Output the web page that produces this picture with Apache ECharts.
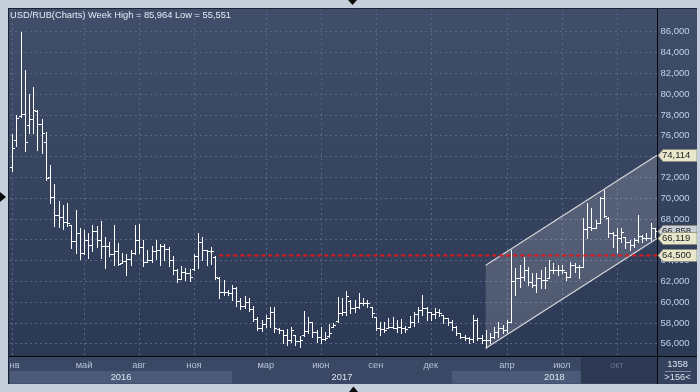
<!DOCTYPE html>
<html><head><meta charset="utf-8">
<script src="https://cdn.jsdelivr.net/npm/echarts@6/dist/echarts.min.js"></script>
<style>html,body{margin:0;padding:0;background:#c5cfdc}#c{width:700px;height:392px}</style>
</head><body><div id="c"></div>
<script>
// ---------------- data ----------------
const chartTitle = 'USD/RUB(Charts) Week High = 85,964 Low = 55,551';
const firstWeek = '2016-01-03';   // weekly bars, first week
const opens = [73.0,75.6,77.9,78.1,77.0,77.6,78.4,77.1,75.4,72.0,
70.1,68.4,68.2,67.7,67.4,65.9,66.6,64.7,66.0,65.5,
66.8,66.0,65.4,65.4,64.6,64.9,63.8,64.0,64.1,64.7,
66.0,65.3,63.9,64.05,64.95,65.0,65.4,65.1,64.05,63.1,
62.2,62.9,62.8,63.2,64.4,65.8,65.0,64.9,64.3,62.3,
61.0,61.0,60.9,61.4,60.1,59.6,60.0,59.3,58.4,57.5,
57.9,58.44,59.05,57.45,57.3,56.84,56.36,56.8,56.3,56.8,
57.2,58.1,57.16,56.61,56.42,56.7,57.6,58.2,58.98,59.08,
60.1,59.4,59.5,59.95,59.95,59.5,58.6,57.48,57.41,57.5,
57.57,57.48,57.6,57.48,57.6,58.12,58.9,59.24,59.4,59.08,
58.86,59.08,58.76,58.44,58.12,57.64,56.99,56.68,56.52,56.42,
58.28,56.52,56.36,56.36,56.68,57.16,57.48,57.32,58.12,62.0,
62.28,62.4,63.08,61.96,61.64,62.28,62.12,62.3,63.08,63.08,
63.08,62.92,62.44,63.57,63.41,63.41,67.0,67.25,67.09,67.57,
69.98,68.05,66.6,66.45,66.13,66.29,65.81,65.49,65.97,66.4,
66.13,66.13,67.09];
const highs = [76.2,78.0,85.964,82.3,80.0,80.7,78.5,77.6,76.4,73.2,
71.4,69.7,69.3,69.5,67.4,68.9,67.1,66.9,66.6,67.4,
67.3,67.8,66.3,65.8,67.4,65.7,64.7,64.6,65.0,67.4,
67.5,65.97,65.0,65.4,66.0,65.6,65.6,65.3,64.4,63.15,
63.5,63.25,63.15,64.6,66.6,66.3,65.0,65.3,64.4,62.45,
62.1,61.2,61.6,61.5,60.4,60.6,60.4,59.6,58.6,58.3,
58.76,59.56,59.56,57.48,57.32,57.41,57.57,56.84,56.74,59.14,
58.6,58.12,57.32,57.57,57.09,57.89,57.96,60.52,60.36,61.1,
60.2,60.2,60.84,60.36,60.2,59.56,58.6,58.12,58.12,58.44,
58.6,58.3,58.34,57.7,58.66,59.08,59.56,60.68,59.56,59.08,
59.4,59.3,58.76,58.44,58.28,57.7,56.99,56.84,56.68,58.76,
58.44,56.84,57.32,56.99,57.64,58.12,57.8,58.28,65.01,63.25,
63.6,64.37,63.41,62.76,62.76,63.08,63.41,64.05,63.73,63.57,
63.57,62.92,63.89,63.73,63.57,68.05,69.5,69.01,67.89,70.14,
70.78,68.21,66.77,67.09,67.09,66.29,65.97,66.13,68.37,66.45,
66.61,67.57,67.09];
const lows = [72.6,75.0,77.8,74.5,76.3,76.3,74.6,74.3,71.7,69.5,
67.3,67.2,67.0,67.3,65.2,64.7,64.1,64.6,64.2,64.9,
65.3,64.2,63.3,64.4,63.6,63.6,63.8,62.6,63.6,64.6,
64.7,63.47,63.9,63.9,64.1,63.6,64.05,63.5,62.7,61.97,
62.2,62.1,62.06,63.1,63.3,64.05,63.6,63.7,62.2,60.36,
60.7,60.7,60.2,59.6,59.3,59.4,59.1,58.2,57.3,57.2,
57.57,57.64,57.16,57.0,56.04,55.88,56.2,55.88,55.72,56.74,
57.0,56.68,56.2,56.04,56.36,56.61,57.57,58.12,58.76,58.76,
58.92,59.08,59.4,59.72,59.5,58.6,57.32,56.84,57.16,57.48,
57.48,57.16,57.06,57.16,57.57,57.7,58.12,58.76,58.28,58.28,
58.44,58.66,57.96,57.8,57.32,56.84,56.52,56.36,56.03,56.2,
56.36,56.1,55.551,56.03,56.52,56.68,57.0,57.16,58.12,60.68,
61.5,62.12,61.64,61.48,61.0,61.32,61.32,62.28,62.76,62.6,
62.76,62.12,62.44,62.92,62.28,63.41,66.13,66.93,67.09,67.57,
68.21,66.29,65.33,64.85,65.81,65.17,65.01,65.33,65.81,65.81,
65.97,65.97,66.29];
const closes = [74.8,77.7,78.1,75.4,77.6,78.5,77.1,76.3,71.9,70.1,
68.4,68.2,67.7,67.6,65.9,66.6,64.7,66.0,65.5,66.8,
66.0,65.4,65.4,64.6,64.9,63.7,64.0,64.1,64.7,66.0,
65.3,63.89,64.05,64.95,65.0,65.4,65.1,64.05,63.1,62.2,
62.9,62.8,62.4,64.4,65.8,65.0,64.9,64.9,62.45,61.0,
61.0,60.9,61.4,60.1,59.6,60.0,59.3,58.4,57.5,57.9,
58.44,59.05,57.5,57.3,56.84,56.36,57.32,56.3,56.36,57.2,
58.1,57.16,56.61,56.42,56.58,57.0,57.8,58.98,59.08,60.59,
59.4,59.5,59.95,59.95,59.88,58.92,57.48,57.41,57.32,57.57,
57.48,57.6,57.48,57.38,58.12,58.9,59.24,59.4,59.08,58.86,
59.08,58.92,58.44,58.12,57.64,56.99,56.68,56.52,56.42,58.28,
56.52,56.36,56.36,56.68,57.16,57.48,57.32,58.12,62.0,62.28,
62.4,63.08,61.96,61.64,62.28,62.12,62.12,63.08,63.08,63.08,
63.08,62.44,63.57,63.41,63.41,67.0,67.25,67.09,67.57,69.98,
68.3,66.6,66.45,66.13,66.77,65.81,65.49,65.97,66.4,66.13,
66.13,67.09,66.858];

const yMin = 56, yMax = 86, yStep = 2;
const monthNames = ['янв','фев','мар','апр','май','июн','июл','авг','сен','окт','ноя','дек'];
const labelMonths = ['2016-01','2016-05','2016-08','2016-11','2017-03','2017-06','2017-09','2017-12','2018-04','2018-07','2018-10'];
const yearLabels = ['2016','2017','2018'];
const dimFromIndex = 135;
const supportLevel = 64.5, supportFromIndex = 49;
const channelStartIndex = 112;
const channelLowStart = 55.551, channelHighStart = 63.546;
const channelLowEnd = 66.119, channelHighEnd = 74.114;
const tagValues = [74.114, 66.858, 66.119, 64.5];
const tagKinds  = ['y', 'g', 'y', 'y'];
const counterTop = '1358', counterBottom = '>156<';

// ---------------- chart ----------------
const FONT = '"Liberation Sans", Arial, sans-serif';
const N = highs.length;
const DAY = 864e5;
const d0 = new Date(firstWeek + 'T00:00:00Z');
const weekDates = [];
for (let i = 0; i < N; i++) weekDates.push(new Date(d0.getTime() + i * 7 * DAY).toISOString().slice(0, 10));
const satKey = i => new Date(d0.getTime() + (i * 7 + 6) * DAY).toISOString().slice(0, 7);
const labelIdx = new Map();
labelMonths.forEach(m => { for (let i = 0; i < N; i++) { if (satKey(i) === m) { labelIdx.set(i, monthNames[+m.slice(5, 7) - 1]); break; } } });
const yearStart = yearLabels.map(y => { for (let i = 0; i < N; i++) if (satKey(i).slice(0, 4) === y) return i; return 0; });

const PLOT_T = 8, PLOT_B = 356, PLOT_L = 8, PLOT_R = 657, PANEL_R = 697, BOT_B = 384;

const barData = highs.map((h, i) => [i, opens[i], h, lows[i], closes[i]]);

function renderBar(params, api) {
  const i = api.value(0);
  const pH = api.coord([i, api.value(2)]);
  const pL = api.coord([i, api.value(3)]);
  const yO = Math.round(api.coord([i, api.value(1)])[1]) + 0.5;
  const yC = Math.round(api.coord([i, api.value(4)])[1]) + 0.5;
  const x = Math.round(pH[0]) + 0.5;
  const st = { stroke: '#ffffff', lineWidth: 1 };
  return { type: 'group', children: [
    { type: 'line', shape: { x1: x, y1: Math.round(pH[1]), x2: x, y2: Math.round(pL[1]) + 1 }, style: st },
    { type: 'line', shape: { x1: x - 2.5, y1: yO, x2: x, y2: yO }, style: st },
    { type: 'line', shape: { x1: x, y1: yC, x2: x + 2.5, y2: yC }, style: st }
  ] };
}
function channelGeom(api) {
  const band = api.size([1, 0])[0];
  const s = api.coord([channelStartIndex, channelLowStart]);
  const sH = api.coord([channelStartIndex, channelHighStart]);
  const e = api.coord([N - 1, channelLowEnd]);
  const eH = api.coord([N - 1, channelHighEnd]);
  const xe = e[0] + band / 2;
  return { xs: s[0], yLs: s[1], yHs: sH[1], xe: xe, yLe: e[1], yHe: eH[1] };
}
function renderChannelFill(params, api) {
  const g = channelGeom(api);
  return { type: 'polygon', shape: { points: [[g.xs, g.yHs], [g.xe, g.yHe], [g.xe, g.yLe], [g.xs, g.yLs]] },
    style: { fill: 'rgba(255,255,255,0.16)' } };
}
function renderLines(params, api) {
  const g = channelGeom(api);
  const yS = Math.round(api.coord([supportFromIndex, supportLevel])[1]) + 0.5;
  const xS = api.coord([supportFromIndex, supportLevel])[0];
  return { type: 'group', children: [
    { type: 'line', shape: { x1: g.xs, y1: g.yHs, x2: g.xe, y2: g.yHe }, style: { stroke: '#d6d6da', lineWidth: 1.2 } },
    { type: 'line', shape: { x1: g.xs, y1: g.yLs, x2: g.xe, y2: g.yLe }, style: { stroke: '#d6d6da', lineWidth: 1.2 } },
    { type: 'line', shape: { x1: xS, y1: yS, x2: g.xe, y2: yS }, style: { stroke: '#e3161b', lineWidth: 2, lineDash: [4, 3] } }
  ] };
}
function renderVGrid(params, api) {
  const x = Math.round(api.coord([api.value(0), yMin])[0]) + 0.5;
  return { type: 'line', shape: { x1: x, y1: PLOT_T, x2: x, y2: PLOT_B }, style: { stroke: '#55668a', lineWidth: 1, lineDash: [2, 3] } };
}

const chart = echarts.init(document.getElementById('c'), null, { renderer: 'canvas' });
chart.setOption({
  animation: false,
  backgroundColor: '#c5cfdc',
  grid: { left: 10, right: 700 - PLOT_R, top: 31.7, bottom: 392 - 343.7, containLabel: false },
  xAxis: {
    type: 'category', data: weekDates, boundaryGap: true, offset: 12.3,
    axisLine: { show: false }, axisTick: { show: false }, splitLine: { show: false },
    axisLabel: {
      interval: (i) => labelIdx.has(i), margin: 5, color: '#b4c2d6', fontSize: 9.3, fontFamily: FONT,
      formatter: (v, i) => i >= dimFromIndex ? '{d|' + labelIdx.get(i) + '}' : labelIdx.get(i),
      rich: { d: { color: '#65758f', fontSize: 9.3, fontFamily: FONT } }
    }
  },
  yAxis: {
    type: 'value', position: 'right', min: yMin, max: yMax, interval: yStep,
    axisLine: { show: false }, axisTick: { show: false },
    axisLabel: { margin: 3.5, color: '#bcd2f0', fontSize: 9.5, fontFamily: FONT, formatter: v => v.toFixed(3).replace('.', ',') },
    splitLine: { show: true, lineStyle: { color: '#55668a', width: 1, type: [2, 3] } }
  },
  series: [
    { type: 'custom', z: 1, silent: true, clip: false, renderItem: renderVGrid,
      data: Array.from(labelIdx.keys()).map(i => [i, yMin]), encode: { x: 0, y: 1 } },
    { type: 'custom', z: 1, silent: true, clip: false, renderItem: renderChannelFill,
      data: [[channelStartIndex, channelLowStart]], encode: { x: 0, y: 1 } },
    { type: 'custom', z: 2, silent: true, clip: false, renderItem: renderBar,
      data: barData, encode: { x: 0, y: [1, 2, 3, 4] } },
    { type: 'custom', z: 3, silent: true, clip: false, renderItem: renderLines,
      data: [[channelStartIndex, channelLowStart]], encode: { x: 0, y: 1 } }
  ]
});

// ------------- decorations via the chart's own scales -------------
const px = i => chart.convertToPixel({ xAxisIndex: 0 }, weekDates[i]);
const py = v => chart.convertToPixel({ yAxisIndex: 0 }, v);
const band = px(1) - px(0);
const els = [];
els.push({ type: 'rect', z: -20, shape: { x: PLOT_L, y: PLOT_T, width: PANEL_R - PLOT_L, height: PLOT_B - PLOT_T },
  style: { fill: new echarts.graphic.LinearGradient(0, 0, 0, 1, [{ offset: 0, color: '#414e69' }, { offset: 1, color: '#2c3955' }]) } });
els.push({ type: 'rect', z: -20, shape: { x: PLOT_L, y: PLOT_B, width: PANEL_R - PLOT_L, height: BOT_B - PLOT_B }, style: { fill: '#3a4866' } });
// year bands
const yearEdges = yearStart.map((s, k) => k === 0 ? px(0) - band / 2 : px(s));
yearEdges.push(PLOT_R);
yearLabels.forEach((y, k) => {
  if (k % 2 === 0) els.push({ type: 'rect', z: -19, shape: { x: yearEdges[k], y: 371, width: yearEdges[k + 1] - yearEdges[k], height: 12.5 }, style: { fill: '#4b5a78' } });
});
// dim region
const dimX = px(dimFromIndex) - band / 2;
els.push({ type: 'rect', z: -18, shape: { x: dimX, y: 357.5, width: PLOT_R - dimX, height: 26 }, style: { fill: '#2d3953' } });
yearLabels.forEach((y, k) => {
  els.push({ type: 'text', z: 5, x: (yearEdges[k] + yearEdges[k + 1]) / 2, y: 377.5,
    style: { text: y, fill: '#dde5ef', font: '9.3px ' + FONT, align: 'center', verticalAlign: 'middle' } });
});
// counter cell
els.push({ type: 'rect', z: -17, shape: { x: PLOT_R + 1, y: PLOT_B + 1, width: PANEL_R - PLOT_R - 1, height: BOT_B - PLOT_B - 1 }, style: { fill: '#34425e' } });
els.push({ type: 'text', z: 5, x: 677.5, y: 364.5, style: { text: counterTop, fill: '#dde5ef', font: '9.3px ' + FONT, align: 'center', verticalAlign: 'middle' } });
els.push({ type: 'line', z: 5, shape: { x1: 665, y1: 371.5, x2: 691, y2: 371.5 }, style: { stroke: '#7f8ca3', lineWidth: 1 } });
els.push({ type: 'text', z: 5, x: 677.5, y: 377.5, style: { text: counterBottom, fill: '#dde5ef', font: '9.3px ' + FONT, align: 'center', verticalAlign: 'middle' } });
// separators
els.push({ type: 'line', z: 6, shape: { x1: PLOT_L, y1: PLOT_B + 0.5, x2: PANEL_R, y2: PLOT_B + 0.5 }, style: { stroke: '#05070c', lineWidth: 1 } });
els.push({ type: 'line', z: 6, shape: { x1: PLOT_R + 0.5, y1: PLOT_T, x2: PLOT_R + 0.5, y2: BOT_B }, style: { stroke: '#05070c', lineWidth: 1 } });
// title
els.push({ type: 'text', z: 10, x: 10, y: 15.5, style: { text: chartTitle, fill: '#e4ecf7', font: '9.3px ' + FONT, verticalAlign: 'middle' } });
// value tags
tagValues.forEach((v, k) => {
  const y = Math.round(py(v)) + 0.5;
  const fill = tagKinds[k] === 'g' ? '#c9ced6' : '#e8e6cb';
  els.push({ type: 'polygon', z: 50 + k, shape: { points: [[PLOT_R + 1, y], [PLOT_R + 6, y - 6], [PANEL_R, y - 6], [PANEL_R, y + 6], [PLOT_R + 6, y + 6]] },
    style: { fill: fill, stroke: '#8c8b78', lineWidth: 0.8 } });
  els.push({ type: 'text', z: 50 + k, x: 662, y: y, style: { text: v.toFixed(3).replace('.', ','), fill: '#1e1e1e', font: '9.5px ' + FONT, verticalAlign: 'middle' } });
});
// outer frame (drawn on top)
const frame = '#c5cfdc';
els.push({ type: 'rect', z: 100, shape: { x: 0, y: 0, width: 700, height: PLOT_T }, style: { fill: frame } });
els.push({ type: 'rect', z: 100, shape: { x: 0, y: 0, width: PLOT_L, height: 392 }, style: { fill: frame } });
els.push({ type: 'rect', z: 100, shape: { x: PANEL_R, y: 0, width: 700 - PANEL_R, height: 392 }, style: { fill: frame } });
els.push({ type: 'rect', z: 100, shape: { x: 0, y: BOT_B, width: 700, height: 392 - BOT_B }, style: { fill: frame } });
els.push({ type: 'line', z: 101, shape: { x1: PLOT_L + 0.5, y1: PLOT_T, x2: PLOT_L + 0.5, y2: BOT_B }, style: { stroke: '#1a2233', lineWidth: 1 } });
els.push({ type: 'line', z: 101, shape: { x1: PLOT_L, y1: PLOT_T + 0.5, x2: PANEL_R, y2: PLOT_T + 0.5 }, style: { stroke: '#1a2233', lineWidth: 1 } });
// arrows
els.push({ type: 'polygon', z: 102, shape: { points: [[348, 0], [357, 0], [352.5, 5]] }, style: { fill: '#0a0a0a' } });
els.push({ type: 'polygon', z: 102, shape: { points: [[0, 192], [0, 202], [6, 197]] }, style: { fill: '#0a0a0a' } });
els.push({ type: 'polygon', z: 102, shape: { points: [[349, 392], [358, 392], [353.5, 386.5]] }, style: { fill: '#0a0a0a' } });
chart.setOption({ graphic: { elements: els } });
</script>
</body></html>
